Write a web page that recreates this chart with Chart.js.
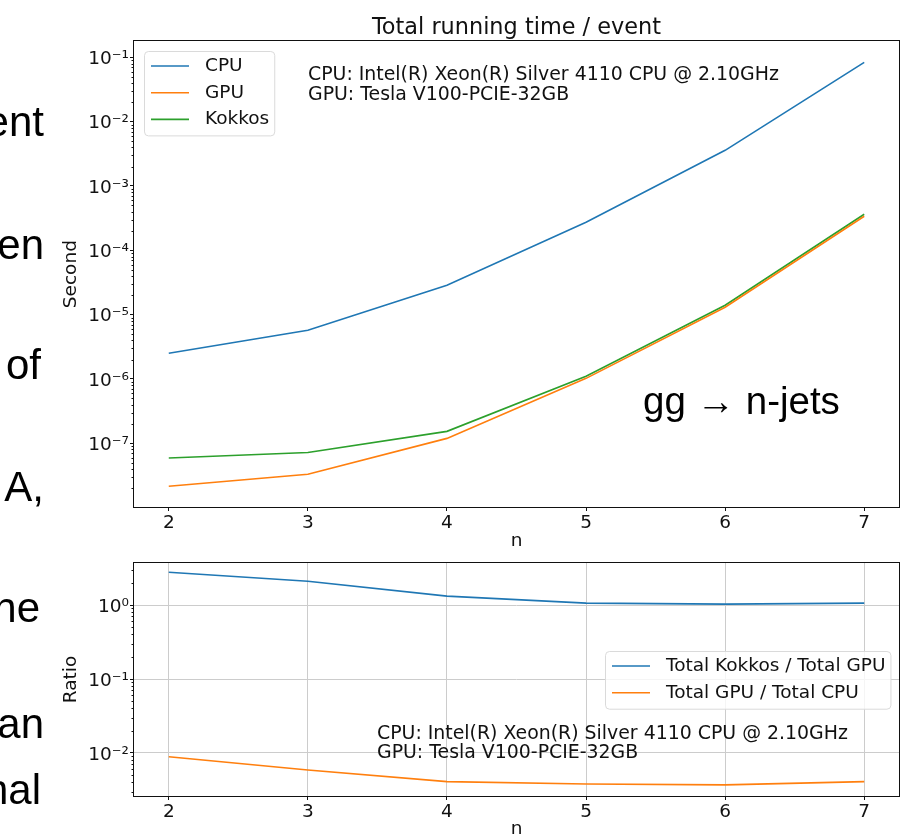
<!DOCTYPE html>
<html>
<head>
<meta charset="utf-8">
<script src="https://cdn.jsdelivr.net/npm/chart.js@4/dist/chart.umd.min.js"></script>
<style>
  html, body { margin: 0; padding: 0; background: #fff; }
  body { width: 902px; height: 836px; position: relative; overflow: hidden; }
  canvas { position: absolute; left: 0; }
  #timeChart { top: 0; }
  #ratioChart { top: 545px; }
  .slide { position: absolute; font-family: 'Liberation Sans', Arial, sans-serif; font-size: 42px; line-height: 42px; color: #000; white-space: nowrap; }
  .process { position: absolute; left: 643px; top: 382px; font-family: 'Liberation Sans', Arial, sans-serif; font-size: 38.5px; line-height: 38.5px; color: #000; white-space: nowrap; }
</style>
</head>
<body>
<canvas id="timeChart" width="902" height="560"></canvas>
<canvas id="ratioChart" width="902" height="300"></canvas>

<div class="slide" style="right:858px; top:101px">ent</div>
<div class="slide" style="right:858px; top:224px">en</div>
<div class="slide" style="right:861px; top:344px">of</div>
<div class="slide" style="right:858px; top:466px">A,</div>
<div class="slide" style="right:862px; top:587px">he</div>
<div class="slide" style="right:858px; top:703px">an</div>
<div class="slide" style="right:861px; top:769px">nal</div>
<div class="process">gg → n-jets</div>

<script>
const nJets = [2, 3, 4, 5, 6, 7];

// running time per event, seconds
const cpuTime = [2.51e-6, 5.7e-6, 2.86e-5, 2.72e-4, 3.58e-3, 8.36e-2];
const gpuTime = [2.14e-8, 3.3e-8, 1.19e-7, 1.02e-6, 1.3e-5, 3.38e-4];
const kokkosTime = [5.9e-8, 7.16e-8, 1.53e-7, 1.1e-6, 1.4e-5, 3.63e-4];

// ratios of the totals
const kokkosOverGpu = [2.77, 2.1, 1.32, 1.06, 1.03, 1.06];
const gpuOverCpu = [0.0089, 0.0059, 0.0041, 0.0038, 0.0037, 0.0041];

// labelled powers of ten on each log axis
const timeDecades = [-7, -6, -5, -4, -3, -2, -1];
const ratioDecades = [-2, -1, 0];

const hardwareNote = [
  'CPU: Intel(R) Xeon(R) Silver 4110 CPU @ 2.10GHz',
  'GPU: Tesla V100-PCIE-32GB'
];

const FONT = 'DejaVu Sans';
const FS = 18.5;
const NOTE_FS = 18.9;
const INK = '#111111';
const GRID = '#cccccc';
const BLUE = '#1f77b4', ORANGE = '#ff7f0e', GREEN = '#2ca02c';

Chart.defaults.font.family = FONT;
Chart.defaults.color = INK;

const SUP = { '-': '\u207b', '0': '\u2070', '1': '\u00b9', '2': '\u00b2', '3': '\u00b3',
  '4': '\u2074', '5': '\u2075', '6': '\u2076', '7': '\u2077', '8': '\u2078', '9': '\u2079' };
const powerLabel = (e) => '10' + String(e).split('').map(c => SUP[c]).join('');

// 1..9 x 10^e inside [min, max]; only the listed decades get a label
function logTicks(decades, min, max) {
  const ticks = [];
  const lo = Math.floor(Math.log10(min)), hi = Math.ceil(Math.log10(max));
  for (let e = lo; e <= hi; e++) {
    for (let m = 1; m <= 9; m++) {
      const value = m * Math.pow(10, e);
      if (value < min || value > max) continue;
      ticks.push({ value, major: m === 1 && decades.includes(e) });
    }
  }
  return ticks;
}

const series = (label, ys, color) => ({
  label,
  data: nJets.map((x, i) => ({ x, y: ys[i] })),
  borderColor: color,
  backgroundColor: color,
  borderWidth: 1.6,
  pointRadius: 0,
  tension: 0,
  fill: false
});

function nAxis(height, titlePad, gridOn) {
  return {
    type: 'linear',
    min: 1.75,
    max: 7.25,
    afterBuildTicks: (axis) => { axis.ticks = nJets.map(v => ({ value: v, major: true })); },
    afterFit: (axis) => { axis.height = height; },
    ticks: { font: { size: FS }, color: INK, padding: 1, autoSkip: false, maxRotation: 0,
      callback: (v) => String(v) },
    grid: { drawOnChartArea: gridOn, color: GRID, tickColor: INK, tickLength: 4, lineWidth: 1 },
    border: { display: false },
    title: { display: true, text: 'n', font: { size: FS }, color: INK,
      padding: { top: 0, bottom: titlePad } }
  };
}

function logAxis(decades, min, max, label, gridOn) {
  return {
    type: 'logarithmic',
    min,
    max,
    afterBuildTicks: (axis) => { axis.ticks = logTicks(decades, min, max); },
    afterFit: (axis) => { axis.width = 134; },
    ticks: { font: { size: FS }, color: INK, padding: 1, autoSkip: false, labelOffset: 2,
      callback: (v, i, ticks) => ticks[i].major ? powerLabel(Math.round(Math.log10(v))) : '' },
    grid: {
      drawOnChartArea: gridOn,
      tickLength: 4,
      color: (c) => (c.tick && c.tick.major) ? GRID : 'rgba(0,0,0,0)',
      tickColor: (c) => (c.tick && c.tick.major) ? INK : 'rgba(0,0,0,0)'
    },
    border: { display: false },
    title: { display: true, text: label, font: { size: FS }, color: INK,
      padding: { top: 60.4, bottom: 0 } }
  };
}

// box around the axes plus the short minor ticks of the log axis
const axesFrame = {
  id: 'axesFrame',
  afterDatasetsDraw(chart) {
    const { ctx, chartArea: a } = chart;
    const y = chart.scales.y;
    ctx.save();
    ctx.strokeStyle = INK;
    ctx.lineWidth = 1;
    y.ticks.forEach(t => {
      if (t.major) return;
      const py = Math.round(y.getPixelForValue(t.value)) + 0.5;
      ctx.beginPath();
      ctx.moveTo(a.left - 2.5, py);
      ctx.lineTo(a.left, py);
      ctx.stroke();
    });
    ctx.strokeRect(Math.round(a.left) - 0.5, Math.round(a.top) - 0.5,
      Math.round(a.right - a.left) + 1, Math.round(a.bottom - a.top) + 1);
    ctx.restore();
  }
};

// framed legend drawn inside the plot area
const boxLegend = {
  id: 'boxLegend',
  afterDatasetsDraw(chart, args, opts) {
    const { ctx, chartArea: a } = chart;
    const sets = chart.data.datasets;
    const rowH = 26.7;
    ctx.save();
    ctx.font = FS + 'px "' + FONT + '"';
    const textW = Math.max(...sets.map(d => ctx.measureText(d.label).width));
    const w = 7 + 38 + 16 + textW + 5;
    const h = 15 + (sets.length - 1) * rowH + 16;
    const upperLeft = opts.place === 'upper left';
    const x = Math.round(upperLeft ? a.left + 10 : a.right - 9 - w);
    const y = Math.round(upperLeft ? a.top + 10 : (a.top + a.bottom - h) / 2);
    ctx.beginPath();
    if (ctx.roundRect) ctx.roundRect(x + 0.5, y + 0.5, w, h, 4);
    else ctx.rect(x + 0.5, y + 0.5, w, h);
    ctx.fillStyle = 'rgba(255,255,255,0.8)';
    ctx.fill();
    ctx.strokeStyle = '#dadada';
    ctx.lineWidth = 1;
    ctx.stroke();
    ctx.textBaseline = 'middle';
    sets.forEach((d, i) => {
      const cy = y + 15 + i * rowH;
      ctx.beginPath();
      ctx.moveTo(x + 7, cy);
      ctx.lineTo(x + 45, cy);
      ctx.strokeStyle = d.borderColor;
      ctx.lineWidth = d.borderWidth;
      ctx.stroke();
      ctx.fillStyle = INK;
      ctx.fillText(d.label, x + 61, cy);
    });
    ctx.restore();
  }
};

const hardwareText = {
  id: 'hardwareText',
  afterDatasetsDraw(chart, args, opts) {
    const { ctx, chartArea: a } = chart;
    ctx.save();
    ctx.font = NOTE_FS + 'px "' + FONT + '"';
    ctx.fillStyle = INK;
    ctx.textBaseline = 'middle';
    hardwareNote.forEach((line, i) => ctx.fillText(line, a.left + opts.dx, a.top + opts.dy + i * 19.5));
    ctx.restore();
  }
};

new Chart(document.getElementById('timeChart'), {
  type: 'line',
  data: {
    datasets: [
      series('CPU', cpuTime, BLUE),
      series('GPU', gpuTime, ORANGE),
      series('Kokkos', kokkosTime, GREEN)
    ]
  },
  options: {
    responsive: false,
    animation: false,
    events: [],
    layout: { padding: { left: 0, right: 3, top: 0, bottom: 0 } },
    scales: {
      x: nAxis(53, 7.4, false),
      y: logAxis(timeDecades, 1.02e-8, 0.1775, 'Second', false)
    },
    plugins: {
      legend: { display: false },
      tooltip: { enabled: false },
      title: {
        display: true,
        fullSize: false,
        text: 'Total running time / event',
        color: INK,
        font: { size: 22.4, weight: 'normal' },
        padding: { top: 14.4, bottom: 0 }
      },
      boxLegend: { place: 'upper left' },
      hardwareText: { dx: 174, dy: 34 }
    }
  },
  plugins: [axesFrame, boxLegend, hardwareText]
});

new Chart(document.getElementById('ratioChart'), {
  type: 'line',
  data: {
    datasets: [
      series('Total Kokkos / Total GPU', kokkosOverGpu, BLUE),
      series('Total GPU / Total CPU', gpuOverCpu, ORANGE)
    ]
  },
  options: {
    responsive: false,
    animation: false,
    events: [],
    layout: { padding: { left: 0, right: 3, top: 18, bottom: 0 } },
    scales: {
      x: nAxis(49, 4.4, true),
      y: logAxis(ratioDecades, 2.62e-3, 3.70, 'Ratio', true)
    },
    plugins: {
      legend: { display: false },
      tooltip: { enabled: false },
      boxLegend: { place: 'center right' },
      hardwareText: { dx: 243, dy: 171 }
    }
  },
  plugins: [axesFrame, boxLegend, hardwareText]
});
</script>
</body>
</html>
